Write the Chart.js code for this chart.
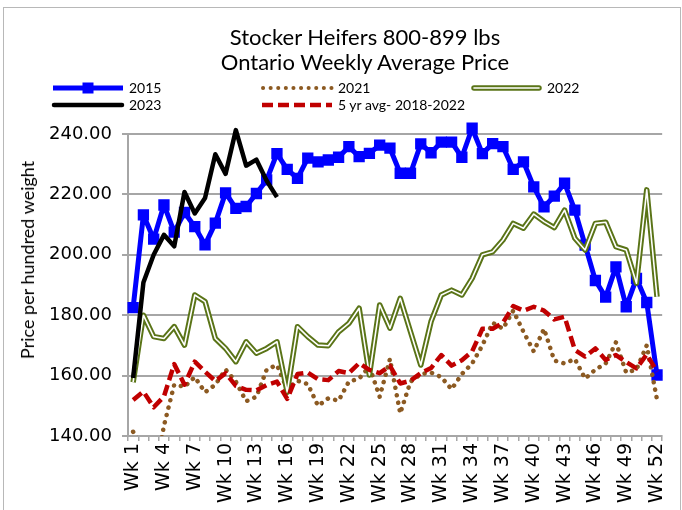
<!DOCTYPE html>
<html>
<head>
<meta charset="utf-8">
<script src="https://cdn.jsdelivr.net/npm/chart.js"></script>
<style>
  body { margin: 0; background: #fff; }
  #caja { position: relative; width: 682px; height: 510px; overflow: hidden; font-family: Lato, "Open Sans", sans-serif; color: #000; }
  #marco { position: absolute; left: 3px; top: 7px; width: 676px; height: 530px; border: 1px solid #b8b8b8; }
  #titulo { position: absolute; left: 365px; top: 24px; transform: translateX(-50%); text-align: center; font-size: 22px; line-height: 25px; white-space: nowrap; }
  #ytitulo { position: absolute; left: 27px; top: 260px; transform: translate(-50%, -50%) rotate(-90deg); font-size: 18px; white-space: nowrap; }
  #leyenda { position: absolute; left: 0; top: 0; }
  #grafica { position: absolute; left: 0; top: 0; }
</style>
</head>
<body>
<div id="caja">
  <div id="marco"></div>
  <canvas id="grafica" width="682" height="510"></canvas>
  <div id="titulo">Stocker Heifers 800-899 lbs<br>Ontario Weekly Average Price</div>
  <div id="ytitulo">Price per hundred weight</div>
  <svg id="leyenda" width="682" height="120" font-family="Lato, sans-serif" font-size="14">
    <line x1="53" y1="88" x2="123" y2="88" stroke="#0000ff" stroke-width="5"/>
    <rect x="82.5" y="82.5" width="11" height="11" fill="#0000ff"/>
    <text x="129" y="93">2015</text>
    <line x1="263" y1="88" x2="332" y2="88" stroke="#8c5a22" stroke-width="4" stroke-linecap="round" stroke-dasharray="0.1 7.5"/>
    <text x="338" y="93">2021</text>
    <line x1="474" y1="88" x2="539" y2="88" stroke="#5a7417" stroke-width="5.5" stroke-linecap="round"/>
    <line x1="474" y1="88" x2="539" y2="88" stroke="#ffffff" stroke-width="1.6" stroke-linecap="round"/>
    <text x="547" y="93">2022</text>
    <line x1="54" y1="105" x2="122" y2="105" stroke="#000000" stroke-width="4.5" stroke-linecap="round"/>
    <text x="129" y="110">2023</text>
    <line x1="262" y1="105" x2="332" y2="105" stroke="#c00000" stroke-width="4.5" stroke-dasharray="11 5"/>
    <text x="338" y="110">5 yr avg- 2018-2022</text>
  </svg>
</div>
<script>
// Semanas (categorias del eje x)
const semanas = ['Wk 1','Wk 2','Wk 3','Wk 4','Wk 5','Wk 6','Wk 7','Wk 8','Wk 9','Wk 10',
  'Wk 11','Wk 12','Wk 13','Wk 14','Wk 15','Wk 16','Wk 17','Wk 18','Wk 19','Wk 20',
  'Wk 21','Wk 22','Wk 23','Wk 24','Wk 25','Wk 26','Wk 27','Wk 28','Wk 29','Wk 30',
  'Wk 31','Wk 32','Wk 33','Wk 34','Wk 35','Wk 36','Wk 37','Wk 38','Wk 39','Wk 40',
  'Wk 41','Wk 42','Wk 43','Wk 44','Wk 45','Wk 46','Wk 47','Wk 48','Wk 49','Wk 50',
  'Wk 51','Wk 52'];

// Precios por semana ($/cwt)
const precios2015 = [182.5, 213.2, 205.2, 216.5, 207.5, 214, 209.3, 203.3, 210.5, 220.5,
  215.4, 216, 220.3, 224.8, 233.5, 228.3, 225.3, 232, 230.8, 231.4,
  232.3, 235.8, 232.5, 233.6, 236.3, 235.3, 227, 227, 236.7, 233.8,
  237.3, 237.3, 232.3, 241.9, 233.5, 236.8, 235.8, 228.3, 230.8, 222.5,
  215.9, 219.4, 223.7, 214.8, 203.2, 191.5, 186, 196, 182.8, 192.2,
  184.2, 160.2];

const precios2021 = [141.4, 136, 125, 143.4, 157, 156.3, 159.5, 154.5, 157, 162,
  158, 151.5, 153, 162, 163.5, 155.5, 158.3, 157.2, 150, 152.5,
  151.7, 158, 159, 163, 153, 165.5, 147.5, 158, 160.5, 161,
  159.5, 155.5, 160.5, 164, 170, 177.5, 175.5, 181.5, 174.5, 168,
  175.5, 165, 164, 165.5, 159, 162, 164, 171, 161, 162,
  170, 152];

const precios2022 = [157.8, 180, 172.9, 172.3, 176.2, 170.1, 186.7, 184.5, 172.3, 169,
  164.6, 171.2, 167.4, 169, 171.2, 154.5, 176.2, 172.9, 170.1, 169.9,
  174.5, 177.3, 182.3, 160.2, 183.4, 175.7, 185.6, 174.5, 163.5, 177.9,
  186.7, 188.3, 186.7, 192.2, 200, 201, 204.9, 210.4, 208.8, 213.5,
  211, 209, 214.8, 205.5, 201.6, 210.4, 210.8, 202.7, 201.6, 190.6,
  221.5, 186.1];

const precios2023 = [159.2, 190.8, 200, 206.6, 202.8, 220.8, 213.7, 218.8, 233.3, 226.8,
  241.3, 229.5, 231.5, 224.5, 219.1];

const promedio5 = [151.9, 154.7, 149.5, 153.1, 163.8, 157, 164.6, 161.3, 158.2, 160.8,
  156.6, 155.3, 155.1, 156.9, 158, 152.3, 160.5, 161, 158.8, 158.5,
  161.5, 160.8, 164.1, 161.9, 160.8, 163.2, 157.4, 158.3, 160.8, 162.5,
  166.8, 163.3, 165.1, 168, 175.5, 175.5, 177.5, 183, 181.5, 182.8,
  181.5, 178.6, 179.5, 168.5, 166.3, 169, 165.2, 166.8, 164.5, 162.4,
  167, 161.3];

const gris = '#a6a6a6';
// solo se recorta abajo (valores bajo 140)
const recorte = { left: 10, top: 20, right: 10, bottom: 0 };

const ctx = document.getElementById('grafica');

new Chart(ctx, {
  type: 'line',
  data: {
    labels: semanas,
    datasets: [
      {
        label: '2015',
        data: precios2015,
        borderColor: '#0000ff',
        borderWidth: 5,
        pointStyle: 'rect',
        pointRadius: 8,
        pointBackgroundColor: '#0000ff',
        pointBorderColor: '#0000ff',
        pointBorderWidth: 0,
        order: 5
      },
      {
        label: '2021',
        data: precios2021,
        borderColor: '#8c5a22',
        borderWidth: 4.5,
        borderDash: [0.1, 7.5],
        borderCapStyle: 'round',
        pointRadius: 0,
        order: 4
      },
      {
        label: '2022',
        data: precios2022,
        borderColor: '#5a7417',
        borderWidth: 5.5,
        pointRadius: 0,
        order: 3
      },
      {
        label: '2022 interior',
        data: precios2022,
        borderColor: '#ffffff',
        borderWidth: 1.6,
        pointRadius: 0,
        order: 2
      },
      {
        label: '2023',
        data: precios2023,
        borderColor: '#000000',
        borderWidth: 4.5,
        pointRadius: 0,
        order: 1
      },
      {
        label: '5 yr avg- 2018-2022',
        data: promedio5,
        borderColor: '#c00000',
        borderWidth: 4.5,
        borderDash: [11, 5],
        pointRadius: 0,
        order: 0
      }
    ]
  },
  options: {
    responsive: false,
    animation: false,
    layout: { padding: { top: 134, right: 18, bottom: 0, left: 0 } },
    plugins: {
      legend: { display: false },
      title: { display: false },
      tooltip: { enabled: false }
    },
    datasets: { line: { clip: recorte } },
    elements: { line: { tension: 0, borderJoinStyle: 'round' } },
    scales: {
      x: {
        offset: true,
        afterFit: (eje) => { eje.height = 74; },
        grid: { offset: true, drawOnChartArea: false, drawTicks: true, tickLength: 5, color: gris, lineWidth: 1.5 },
        border: { color: gris, width: 2 },
        ticks: {
          autoSkip: false,
          minRotation: 90,
          maxRotation: 90,
          padding: 2,
          color: '#000',
          font: { family: 'DejaVu Sans', size: 19 },
          callback: function (valor, i) { return i % 3 === 0 ? semanas[i] : ''; }
        }
      },
      y: {
        min: 140,
        max: 240,
        afterFit: (eje) => { eje.width = 128; },
        grid: { color: gris, lineWidth: 2, tickLength: 6 },
        border: { color: gris, width: 2 },
        ticks: {
          stepSize: 20,
          padding: 10,
          color: '#000',
          font: { family: 'DejaVu Sans', size: 18 },
          callback: (v) => v.toFixed(2)
        }
      }
    }
  }
});
</script>
</body>
</html>
